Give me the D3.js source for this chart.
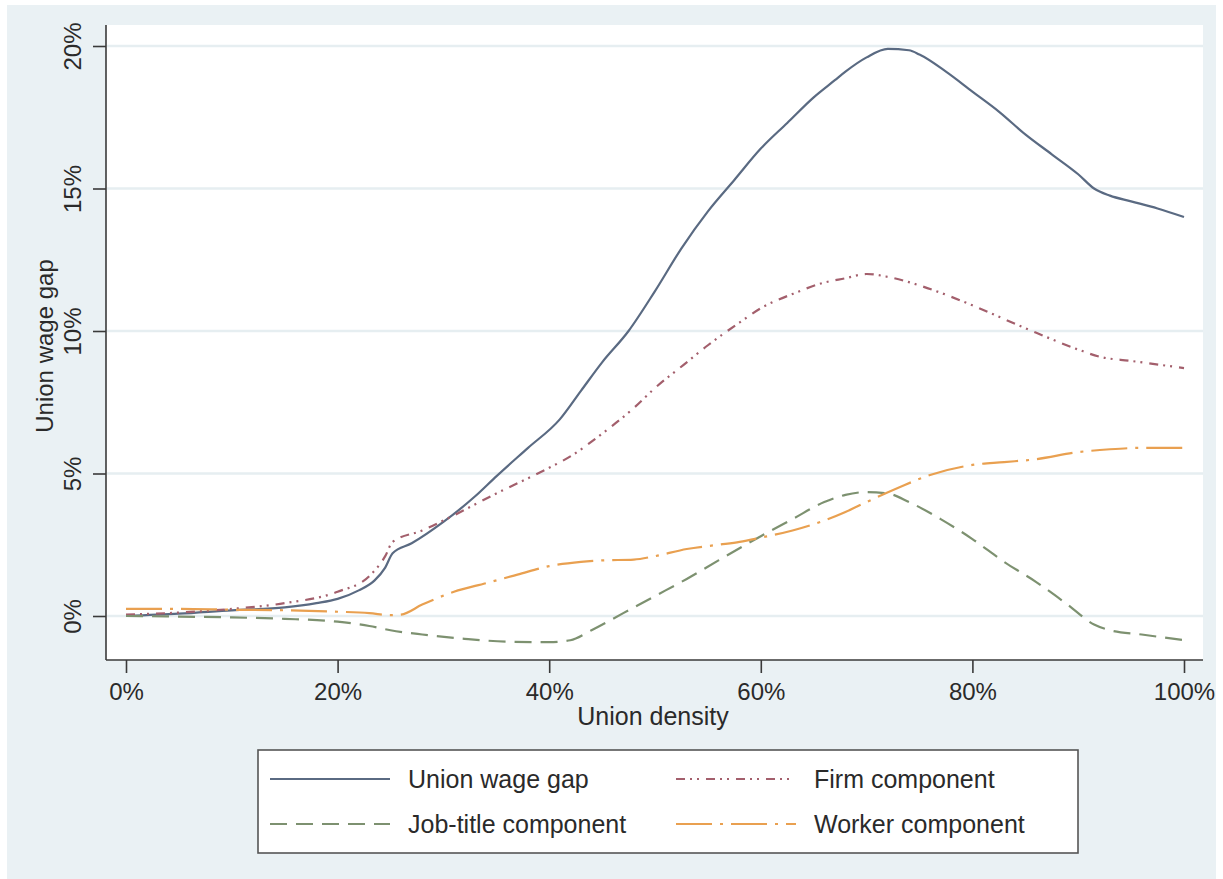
<!DOCTYPE html>
<html>
<head>
<meta charset="utf-8">
<script src="https://cdn.jsdelivr.net/npm/d3@7/dist/d3.min.js"></script>
<style>
  html, body { margin: 0; padding: 0; background: #ffffff; }
  svg { display: block; }
  text { font-family: "Liberation Sans", Arial, sans-serif; fill: #2a2a2a; }
</style>
</head>
<body>
<svg id="chart" width="1223" height="879"></svg>
<script>
// ---- Data (union density in %, wage gap in %) ----
const wageGapX = [0, 5, 10, 15, 18, 20, 22, 23.5, 24.5, 25.2, 27, 30, 33, 35, 38, 41, 43, 45, 47.5, 50, 52.5, 55, 57.5, 60, 62.5, 65, 67, 68, 70, 72, 74, 75, 77.5, 80, 82.5, 85, 87.5, 90, 91.5, 93, 95, 97.5, 100];
const wageGapY = [0.0, 0.08, 0.2, 0.3, 0.45, 0.6, 0.9, 1.25, 1.7, 2.2, 2.55, 3.3, 4.2, 4.9, 5.9, 6.9, 7.9, 8.9, 10.0, 11.4, 12.9, 14.2, 15.3, 16.4, 17.3, 18.2, 18.8, 19.1, 19.6, 19.9, 19.85, 19.7, 19.1, 18.4, 17.7, 16.9, 16.2, 15.5, 15.0, 14.75, 14.55, 14.3, 14.0];

const firmX = [0, 5, 10, 15, 20, 23, 24.5, 25.2, 28, 30, 35, 40, 42, 45, 48, 50, 53, 55, 58, 60, 63, 66, 68, 70, 72, 75, 78, 80, 85, 90, 92, 95, 100];
const firmY = [0.05, 0.12, 0.25, 0.45, 0.85, 1.4, 2.1, 2.6, 3.0, 3.35, 4.3, 5.2, 5.6, 6.4, 7.3, 8.0, 8.9, 9.5, 10.3, 10.8, 11.3, 11.7, 11.85, 12.0, 11.9, 11.6, 11.2, 10.9, 10.1, 9.35, 9.1, 8.95, 8.7];

const jobTitleX = [0, 5, 10, 15, 20, 23, 25, 28, 32, 36, 40, 42, 44, 47, 50, 53, 56, 60, 63, 66, 68, 70, 72, 74, 77, 80, 83, 86, 89, 91.5, 93, 96, 100];
const jobTitleY = [0.0, -0.02, -0.05, -0.1, -0.2, -0.35, -0.5, -0.65, -0.8, -0.9, -0.92, -0.85, -0.5, 0.1, 0.7, 1.3, 1.95, 2.8, 3.4, 4.0, 4.25, 4.35, 4.3, 4.0, 3.4, 2.7, 1.9, 1.2, 0.4, -0.3, -0.5, -0.65, -0.85];

const workerX = [0, 5, 10, 15, 20, 23, 25, 26, 28, 31, 34, 37, 40, 43, 45, 48, 50, 53, 56, 58, 60, 63, 66, 68, 70, 73, 76, 80, 83, 86, 90, 93, 96, 100];
const workerY = [0.25, 0.25, 0.22, 0.2, 0.15, 0.1, 0.03, 0.05, 0.4, 0.85, 1.15, 1.45, 1.75, 1.9, 1.95, 1.98, 2.1, 2.35, 2.5, 2.6, 2.75, 3.0, 3.35, 3.65, 4.0, 4.5, 4.95, 5.3, 5.4, 5.5, 5.75, 5.85, 5.9, 5.9];

const xTicks = [0, 20, 40, 60, 80, 100];
const yTicks = [0, 5, 10, 15, 20];
const seriesNames = ["Union wage gap", "Firm component", "Job-title component", "Worker component"];

// ---- Styles ----
const styles = [
  { color: "#5a6a82", dash: null },
  { color: "#a35f6c", dash: "9,5,2,5,2,7" },
  { color: "#7d9170", dash: "17,9" },
  { color: "#e9a050", dash: "36,8,3,8" }
];
const seriesData = [
  d3.zip(wageGapX, wageGapY),
  d3.zip(firmX, firmY),
  d3.zip(jobTitleX, jobTitleY),
  d3.zip(workerX, workerY)
];

const svg = d3.select("#chart");
// Outer graph region
svg.append("rect").attr("x", 7).attr("y", 5).attr("width", 1209).attr("height", 874).attr("fill", "#eaf1f4");

const plot = { left: 106, right: 1203, top: 25, bottom: 660 };
svg.append("rect").attr("x", plot.left).attr("y", plot.top)
  .attr("width", plot.right - plot.left).attr("height", plot.bottom - plot.top).attr("fill", "#ffffff");

const x = d3.scaleLinear().domain([0, 100]).range([126, 1184]);
const y = d3.scaleLinear().domain([0, 20]).range([616, 46]);

// Gridlines
svg.append("g").selectAll("line").data(yTicks).join("line")
  .attr("x1", plot.left + 1).attr("x2", plot.right)
  .attr("y1", d => y(d)).attr("y2", d => y(d))
  .attr("stroke", "#e6eef1").attr("stroke-width", 2.5);

// Lines
const line = d3.line().x(d => x(d[0])).y(d => y(d[1])).curve(d3.curveMonotoneX);
seriesData.forEach((data, i) => {
  svg.append("path").datum(data)
    .attr("d", line)
    .attr("fill", "none")
    .attr("stroke", styles[i].color)
    .attr("stroke-width", 2.2)
    .attr("stroke-dasharray", styles[i].dash)
    .attr("stroke-linejoin", "round");
});

// X axis
const xAxis = svg.append("g").attr("transform", `translate(0,${plot.bottom})`)
  .call(d3.axisBottom(x).tickValues(xTicks).tickSize(13).tickSizeOuter(0).tickFormat(d => d + "%"));
xAxis.select(".domain").attr("d", `M${plot.left},0H${plot.right}`).attr("stroke", "#3a3a3a").attr("stroke-width", 1.6);
xAxis.selectAll(".tick line").attr("stroke", "#3a3a3a").attr("stroke-width", 1.6);
xAxis.selectAll(".tick text").attr("y", 40).attr("dy", null)
  .style("font-size", "24px").style("fill", "#2a2a2a").style("font-family", "'Liberation Sans', Arial, sans-serif");

// Y axis
const yAxis = svg.append("g").attr("transform", `translate(${plot.left},0)`)
  .call(d3.axisLeft(y).tickValues(yTicks).tickSize(13).tickSizeOuter(0).tickFormat(d => d + "%"));
yAxis.select(".domain").attr("d", `M0,${plot.top}V${plot.bottom}`).attr("stroke", "#3a3a3a").attr("stroke-width", 1.6);
yAxis.selectAll(".tick line").attr("stroke", "#3a3a3a").attr("stroke-width", 1.6);
yAxis.selectAll(".tick text").attr("x", null).attr("dy", null)
  .attr("text-anchor", "middle")
  .attr("transform", "translate(-25,0) rotate(-90)")
  .style("font-size", "24px").style("fill", "#2a2a2a").style("font-family", "'Liberation Sans', Arial, sans-serif");

// Axis titles
svg.append("text").attr("x", 653).attr("y", 725).attr("text-anchor", "middle")
  .style("font-size", "25px").text("Union density");
svg.append("text").attr("transform", "translate(53,346) rotate(-90)").attr("text-anchor", "middle")
  .style("font-size", "24px").text("Union wage gap");

// Legend
svg.append("rect").attr("x", 258).attr("y", 750).attr("width", 820).attr("height", 103)
  .attr("fill", "#ffffff").attr("stroke", "#555555").attr("stroke-width", 1.6);
const legendPos = [
  { lx: 270, ly: 779 },
  { lx: 676, ly: 779 },
  { lx: 270, ly: 824 },
  { lx: 676, ly: 824 }
];
seriesNames.forEach((name, i) => {
  const p = legendPos[i];
  svg.append("line").attr("x1", p.lx).attr("x2", p.lx + 120).attr("y1", p.ly).attr("y2", p.ly)
    .attr("stroke", styles[i].color).attr("stroke-width", 2.2).attr("stroke-dasharray", styles[i].dash);
  svg.append("text").attr("x", p.lx + 138).attr("y", p.ly + 9).style("font-size", "25px").text(name);
});
</script>
</body>
</html>
